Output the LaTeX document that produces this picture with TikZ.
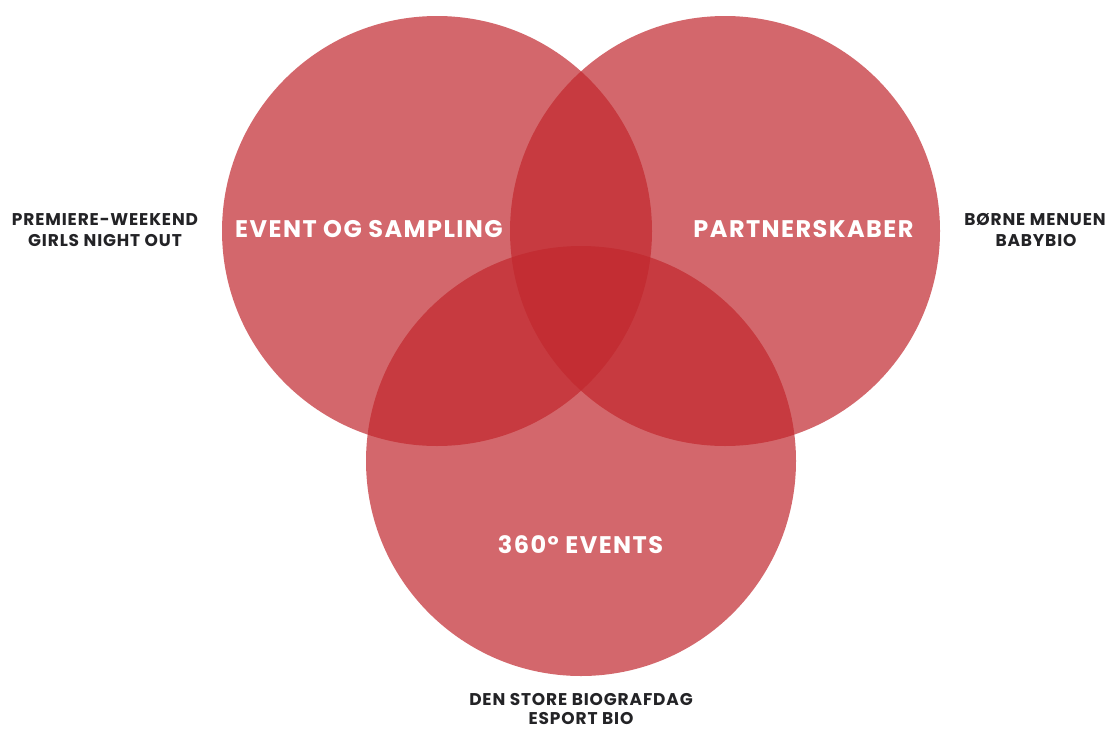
\documentclass[tikz,border=0pt]{standalone}
\usepackage{fontspec}
\setmainfont{Poppins}
\newfontfamily\labfont{Poppins}[LetterSpace=5]
\newfontfamily\bigfont{Poppins}[LetterSpace=6]
\definecolor{vred}{RGB}{193,39,45}
\definecolor{labelgray}{RGB}{35,35,38}
\begin{document}
\begin{tikzpicture}[x=1pt,y=-1pt,
  venn/.style={fill=vred,fill opacity=0.7,draw=none},
  inlabel/.style={text=white,font=\bigfont\bfseries\fontsize{24}{26}\selectfont,inner sep=0pt,anchor=base},
  outlabel/.style={text=labelgray,font=\labfont\bfseries\fontsize{17}{21}\selectfont,inner sep=0pt,anchor=base}]
\useasboundingbox (0,0) rectangle (1113,731);
\fill[venn] (437,231) circle (215);
\fill[venn] (725,231) circle (215);
\fill[venn] (581,461) circle (215);
\node[inlabel] (ev) at (369,237) {EVENT OG SAMPLING};
\node[inlabel] (pa) at (803.5,237) {PARTNERSKABER};
\node[inlabel] (th) at (580.5,553) {360° EVENTS};
\node[outlabel] (l1) at (105,225) {PREMIERE-WEEKEND};
\node[outlabel] (l2) at (105,246) {GIRLS NIGHT OUT};
\node[outlabel] (r1) at (1035,225) {BØRNE MENUEN};
\node[outlabel] (r2) at (1036,246) {BABYBIO};
\node[outlabel] (b1) at (581,705) {DEN STORE BIOGRAFDAG};
\node[outlabel] (b2) at (581,724) {ESPORT BIO};
\end{tikzpicture}
\end{document}
